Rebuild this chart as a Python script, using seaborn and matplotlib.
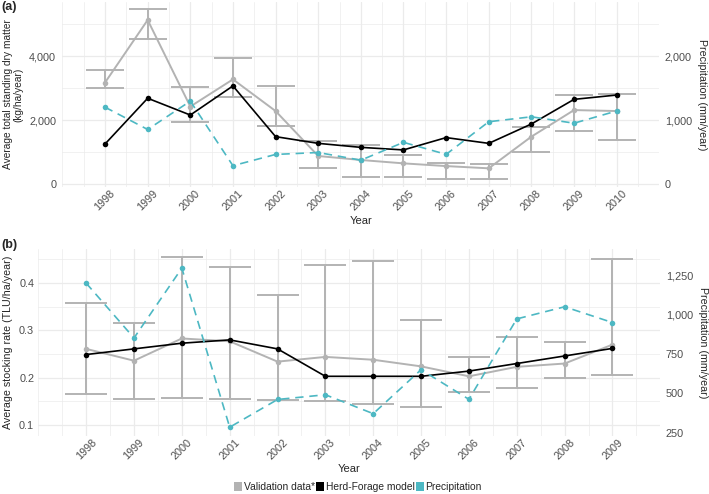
import matplotlib
matplotlib.use("Agg")
import matplotlib.pyplot as plt
import matplotlib.ticker as mticker
from matplotlib.patches import Patch
import numpy as np
import pandas as pd
import seaborn as sns

sns.set_style("white")
plt.rcParams['font.family'] = ['Liberation Sans', 'DejaVu Sans']

# ---------------- data ----------------
years_a = [1998, 1999, 2000, 2001, 2002, 2003, 2004, 2005, 2006, 2007, 2008, 2009, 2010]
val_a = [3170, 5125, 2420, 3270, 2280, 875, 750, 645, 560, 490, 1480, 2310, 2280]
val_a_lo = [2990, 4520, 1930, 2730, 1820, 510, 230, 210, 170, 155, 1010, 1670, 1375]
val_a_hi = [3560, 5470, 3020, 3950, 3060, 1345, 1220, 895, 645, 635, 1790, 2780, 2810]
model_a = [1250, 2680, 2155, 3065, 1480, 1270, 1145, 1065, 1450, 1270, 1875, 2645, 2780]
precip = [1200, 852, 1295, 286, 462, 492, 372, 651, 463, 973, 1050, 950, 1141]

years_b = [1998, 1999, 2000, 2001, 2002, 2003, 2004, 2005, 2006, 2007, 2008, 2009]
val_b = [0.261, 0.236, 0.283, 0.277, 0.234, 0.244, 0.238, 0.224, 0.203, 0.223, 0.230, 0.270]
val_b_lo = [0.165, 0.155, 0.158, 0.156, 0.152, 0.151, 0.145, 0.138, 0.169, 0.179, 0.200, 0.206]
val_b_hi = [0.357, 0.315, 0.455, 0.434, 0.374, 0.439, 0.447, 0.321, 0.244, 0.287, 0.276, 0.451]
model_b = [0.249, 0.261, 0.273, 0.280, 0.261, 0.203, 0.203, 0.203, 0.214, 0.230, 0.246, 0.262]

legend_labels = ["Validation data*", "Herd-Forage model", "Precipitation"]

GRAY = "#b3b3b3"
BLACK = "#000000"
CYAN = "#4db8c3"
GRID = "#ebebeb"
TXT = "#4d4d4d"

SCALE_A = 2.0      # dry matter = 2 * precipitation
SCALE_B = 1/3000.  # stocking = precipitation / 3000

fig = plt.figure(figsize=(7.09, 4.94), dpi=100)
W, H = 709, 494

def px_axes(l, t, r, b):
    return fig.add_axes([l / W, 1 - b / H, (r - l) / W, (b - t) / H])

axA = px_axes(62.4, 1.6, 659.3, 187.2)
axB = px_axes(38.3, 248.6, 660.3, 435.9)


def draw_panel(ax, years, val, lo, hi, model, prec, scale, capsize):
    val = np.array(val); lo = np.array(lo); hi = np.array(hi)
    ax.errorbar(years, val, yerr=[val - lo, hi - val], fmt='none', ecolor=GRAY,
                elinewidth=1.4, capsize=capsize, capthick=1.4, zorder=2)
    df = pd.DataFrame({"Year": years, "val": val, "model": model,
                       "prec": np.array(prec) * scale})
    sns.lineplot(data=df, x="Year", y="val", ax=ax, color=GRAY, lw=1.4,
                 marker="o", markersize=4, markeredgewidth=0, zorder=3)
    sns.lineplot(data=df, x="Year", y="model", ax=ax, color=BLACK, lw=1.2,
                 marker="o", markersize=4, markeredgewidth=0, zorder=4)
    sns.lineplot(data=df, x="Year", y="prec", ax=ax, color=CYAN, lw=1.2,
                 marker="o", markersize=4, markeredgewidth=0, zorder=5,
                 linestyle=(0, (5, 3.5)))


draw_panel(axA, years_a, val_a, val_a_lo, val_a_hi, model_a, precip[:len(years_a)],
           SCALE_A, 13.7)
draw_panel(axB, years_b, val_b, val_b_lo, val_b_hi, model_b, precip[:len(years_b)],
           SCALE_B, 15.1)

axA.set_xlim(1997, 2011)
axA.set_ylim(-100, 5700)
axB.set_xlim(1997, 2010)
axB.set_ylim(0.077, 0.473)

comma = mticker.FuncFormatter(lambda v, p: f"{v:,.0f}")

for ax, yrs, xmax, yt, ymin_t in [
        (axA, years_a, 2011, [0, 2000, 4000], [1000, 3000, 5000]),
        (axB, years_b, 2010, [0.1, 0.2, 0.3, 0.4], [0.15, 0.25, 0.35, 0.45])]:
    for s in ax.spines.values():
        s.set_visible(False)
    ax.set_xticks(yrs)
    ax.set_xticklabels([str(y) for y in yrs], rotation=45, ha='center',
                       color=TXT, fontsize=7.8)
    ax.set_xticks(np.arange(1997, xmax + 0.01, 0.5), minor=True)
    ax.set_yticks(yt)
    ax.set_yticks(ymin_t, minor=True)
    ax.tick_params(axis='both', which='both', length=0)
    ax.tick_params(axis='y', labelcolor=TXT, labelsize=7.8)
    ax.grid(True, which='major', color=GRID, lw=0.9)
    ax.grid(True, which='minor', color=GRID, lw=0.5)
    ax.set_axisbelow(True)
    ax.set_xlabel("Year", fontsize=8, labelpad=2)

axA.yaxis.set_major_formatter(comma)
axA.tick_params(axis='y', pad=4.5)
axA.tick_params(axis='x', pad=1)
axB.tick_params(axis='y', pad=3)
axB.tick_params(axis='x', pad=1)
axB.yaxis.set_major_formatter(mticker.FuncFormatter(lambda v, p: f"{v:.1f}"))

axA.set_ylabel("Average total standing dry matter\n(kg/ha/year)", fontsize=7.3,
               linespacing=1.05, labelpad=4)
axB.set_ylabel("Average stocking rate (TLU/ha/year)", fontsize=7.7, labelpad=4)

secA = axA.secondary_yaxis('right', functions=(lambda v: v / SCALE_A,
                                               lambda v: v * SCALE_A))
secA.set_yticks([0, 1000, 2000])
secA.yaxis.set_major_formatter(comma)
secB = axB.secondary_yaxis('right', functions=(lambda v: v / SCALE_B,
                                               lambda v: v * SCALE_B))
secB.set_yticks([250, 500, 750, 1000, 1250])
secB.yaxis.set_major_formatter(comma)
for sec in (secA, secB):
    for s in sec.spines.values():
        s.set_visible(False)
    sec.tick_params(axis='y', length=0, pad=4, labelcolor=TXT, labelsize=7.8)
    sec.set_ylabel("Precipitation (mm/year)", rotation=270, fontsize=7.7,
                   labelpad=11)

fig.text(1 / W, 1 - 7 / H, "(a)", fontsize=9, fontweight='bold', va='center')
fig.text(1 / W, 1 - 245 / H, "(b)", fontsize=9, fontweight='bold', va='center')

handles = [Patch(facecolor=c, edgecolor='none') for c in (GRAY, BLACK, CYAN)]
fig.legend(handles, legend_labels, loc='center', bbox_to_anchor=(358 / W, 1 - 487 / H),
           ncol=3, frameon=False, fontsize=7.4, handlelength=0.75, handleheight=0.9,
           handletextpad=0.15, columnspacing=0.15, borderpad=0)

fig.savefig("out.png", dpi=100)
